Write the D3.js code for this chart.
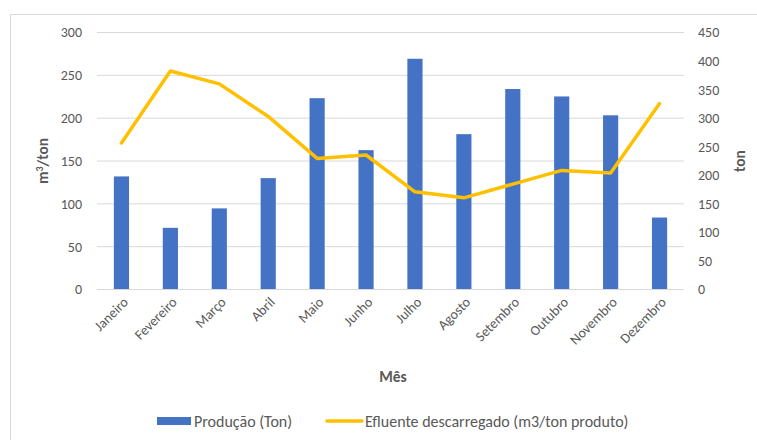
<!DOCTYPE html>
<html>
<head>
<meta charset="utf-8">
<script src="https://cdn.jsdelivr.net/npm/d3@7"></script>
<style>
  html, body { margin: 0; padding: 0; background: #fff; }
  svg text { font-family: Carlito, Calibri, Lato, "Open Sans", sans-serif; fill: #595959; }
</style>
</head>
<body>
<svg id="chart" width="757" height="440"></svg>
<script>
// Monthly production (tons, right axis) and discharged effluent (m3/ton, left axis)
const months = ["Janeiro", "Fevereiro", "Março", "Abril", "Maio", "Junho", "Julho",
                "Agosto", "Setembro", "Outubro", "Novembro", "Dezembro"];
const producao = [198, 108, 142, 195, 335, 244, 404, 272, 351, 338, 305, 126];
const efluente = [171, 255, 240, 202, 153, 157, 114, 107, 123, 139, 136, 217];
const leftTicks = [0, 50, 100, 150, 200, 250, 300];
const rightTicks = [0, 50, 100, 150, 200, 250, 300, 350, 400, 450];

const svg = d3.select("#chart");
const plot = { left: 97, right: 684, top: 32.5, bottom: 289.5 };

// chart frame
svg.append("rect")
  .attr("x", 10.5).attr("y", 14.5)
  .attr("width", 800).attr("height", 500)
  .attr("fill", "none").attr("stroke", "#d9d9d9").attr("stroke-width", 1);

const x = d3.scaleBand().domain(months).range([plot.left, plot.right]).paddingInner(0.69).paddingOuter(0.345);
const yL = d3.scaleLinear().domain([0, 300]).range([plot.bottom, plot.top]);
const yR = d3.scaleLinear().domain([0, 450]).range([plot.bottom, plot.top]);

// gridlines from the primary axis
svg.append("g").selectAll("line").data(leftTicks).join("line")
  .attr("x1", plot.left).attr("x2", plot.right)
  .attr("y1", d => yL(d)).attr("y2", d => yL(d))
  .attr("stroke", "#d9d9d9").attr("stroke-width", 1);

// left axis
const axL = svg.append("g").attr("transform", `translate(${plot.left - 15},0)`)
  .call(d3.axisLeft(yL).tickValues(leftTicks).tickSize(0).tickPadding(0));
axL.select(".domain").remove();
axL.selectAll("text").attr("font-size", 14).style("fill", "#595959");

// right axis
const axR = svg.append("g").attr("transform", `translate(${plot.right + 14},0)`)
  .call(d3.axisRight(yR).tickValues(rightTicks).tickSize(0).tickPadding(0));
axR.select(".domain").remove();
axR.selectAll("text").attr("font-size", 14).style("fill", "#595959");

// bars: production
svg.append("g").selectAll("rect").data(producao).join("rect")
  .attr("x", (d, i) => x(months[i]))
  .attr("y", d => yR(d))
  .attr("width", x.bandwidth())
  .attr("height", d => yR(0) - yR(d))
  .attr("fill", "#4472c4");

// baseline
svg.append("line")
  .attr("x1", plot.left).attr("x2", plot.right)
  .attr("y1", yL(0)).attr("y2", yL(0))
  .attr("stroke", "#d9d9d9").attr("stroke-width", 1);

// effluent line
const line = d3.line()
  .x((d, i) => x(months[i]) + x.bandwidth() / 2)
  .y(d => yL(d));
svg.append("path").datum(efluente)
  .attr("d", line)
  .attr("fill", "none").attr("stroke", "#ffc000")
  .attr("stroke-width", 3.5).attr("stroke-linejoin", "round").attr("stroke-linecap", "round");

// category labels
const axB = svg.append("g").attr("transform", `translate(0,${plot.bottom})`)
  .call(d3.axisBottom(x).tickSize(0).tickPadding(0));
axB.select(".domain").remove();
axB.selectAll("text")
  .attr("font-size", 14).style("fill", "#595959")
  .attr("text-anchor", "end")
  .attr("dy", "0.35em")
  .attr("transform", "translate(4,10) rotate(-45)");

// axis titles
const leftTitle = svg.append("text")
  .attr("transform", `translate(48,${(plot.top + plot.bottom) / 2}) rotate(-90)`)
  .attr("text-anchor", "middle").attr("font-size", 15.5).attr("font-weight", "bold");
leftTitle.append("tspan").text("m");
leftTitle.append("tspan").attr("dy", -5).attr("font-size", 10).text("3");
leftTitle.append("tspan").attr("dy", 5).text("/ton");

svg.append("text").attr("transform", `translate(745,${(plot.top + plot.bottom) / 2}) rotate(-90)`)
  .attr("text-anchor", "middle").attr("font-size", 15.5).attr("font-weight", "bold").text("ton");

svg.append("text").attr("x", 393).attr("y", 382)
  .attr("text-anchor", "middle").attr("font-size", 15.5).attr("font-weight", "bold").text("Mês");

// legend
const lg = svg.append("g").attr("transform", "translate(0,421)");
lg.append("rect").attr("x", 157).attr("y", -4).attr("width", 34).attr("height", 8).attr("fill", "#4472c4");
lg.append("text").attr("x", 194).attr("y", 5.5).attr("font-size", 16).text("Produção (Ton)");
lg.append("line").attr("x1", 327).attr("x2", 362).attr("y1", 0).attr("y2", 0)
  .attr("stroke", "#ffc000").attr("stroke-width", 3.5).attr("stroke-linecap", "round");
lg.append("text").attr("x", 365).attr("y", 5.5).attr("font-size", 16).text("Efluente descarregado (m3/ton produto)");
</script>
</body>
</html>
